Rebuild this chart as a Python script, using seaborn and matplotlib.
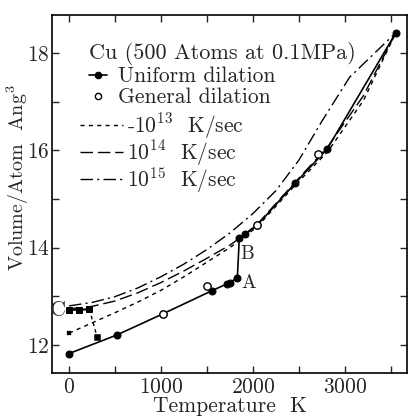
import numpy as np
import pandas as pd
import matplotlib
matplotlib.use("Agg")
import matplotlib.pyplot as plt
import seaborn as sns
from matplotlib.lines import Line2D
from matplotlib.ticker import MultipleLocator

# ---------------- data ----------------
T_uniform = [0, 518, 1025, 1551, 1714, 1750, 1830, 1851, 1913, 2047, 2457, 2808, 3554]
V_uniform = [11.82, 12.20, 12.64, 13.11, 13.25, 13.28, 13.38, 14.19, 14.27, 14.46, 15.32, 16.03, 18.42]

T_general = [1020, 1497, 2040, 2710]
V_general = [12.63, 13.20, 14.46, 15.92]

T_rate13 = [0, 250, 500, 750, 1000, 1250, 1500, 1750, 1880, 2047, 2457, 2808, 3200, 3554]
V_rate13 = [12.24, 12.45, 12.66, 12.88, 13.12, 13.40, 13.70, 14.00, 14.18, 14.43, 15.28, 15.96, 17.02, 18.42]

T_rate14 = [0, 250, 500, 750, 1000, 1250, 1500, 1750, 1860, 2047, 2457, 2808, 3200, 3554]
V_rate14 = [12.74, 12.79, 12.90, 13.07, 13.28, 13.52, 13.78, 14.05, 14.20, 14.48, 15.34, 16.06, 17.12, 18.42]

T_rate15 = [0, 250, 500, 750, 1000, 1250, 1500, 1750, 2000, 2250, 2500, 2750, 3050, 3554]
V_rate15 = [12.80, 12.87, 12.99, 13.17, 13.40, 13.66, 13.96, 14.30, 14.70, 15.17, 15.80, 16.60, 17.50, 18.42]

T_quench = [0, 105, 221]
V_quench = [12.72, 12.72, 12.73]
T_drop = [221, 304]
V_drop = [12.73, 12.17]

x_ticks = [0, 1000, 2000, 3000]
y_ticks = [12, 14, 16, 18]

labels_rate = ["-10$^{13}$  K/sec", "10$^{14}$  K/sec", "10$^{15}$  K/sec"]

# ---------------- style ----------------
sns.set_style("ticks")
plt.rcParams.update({
    "font.family": ["cmr10", "DejaVu Serif"],
    "mathtext.fontset": "cm",
    "axes.unicode_minus": False,
    "axes.formatter.use_mathtext": True,
    "axes.linewidth": 1.2,
})

fig = plt.figure(figsize=(4.1, 4.18), dpi=100)
ax = fig.add_axes([52 / 410, 45 / 418, 355 / 410, 358 / 418])

ls13 = (0, (3, 3))
ls14 = (0, (9, 3.5))
ls15 = (0, (9, 3, 1.5, 3))

sns.lineplot(x=T_rate13, y=V_rate13, ax=ax, color="k", lw=1.0, linestyle=ls13,
             sort=False, estimator=None)
sns.lineplot(x=T_rate14, y=V_rate14, ax=ax, color="k", lw=1.0, linestyle=ls14,
             sort=False, estimator=None)
sns.lineplot(x=T_rate15, y=V_rate15, ax=ax, color="k", lw=1.0, linestyle=ls15,
             sort=False, estimator=None)

sns.lineplot(x=T_uniform, y=V_uniform, ax=ax, color="k", lw=1.2, sort=False,
             estimator=None, marker="o", markersize=5, markeredgecolor="k")
sns.lineplot(x=T_quench, y=V_quench, ax=ax, color="k", lw=1.5, sort=False,
             estimator=None, marker="s", markersize=5, markeredgecolor="k")
sns.lineplot(x=T_drop, y=V_drop, ax=ax, color="k", lw=1.0, linestyle=(0, (2.5, 2.5)),
             sort=False, estimator=None)
sns.scatterplot(x=T_drop[1:], y=V_drop[1:], ax=ax, color="k", marker="s", s=22,
                edgecolor="k")
sns.scatterplot(x=T_rate13[:1], y=V_rate13[:1], ax=ax, color="k", marker="s", s=8,
                edgecolor="k")
sns.scatterplot(x=T_general, y=V_general, ax=ax, facecolor="white", edgecolor="k",
                marker="o", s=28, linewidth=1.0, zorder=5)

# point labels
ax.text(1957, 13.27, "A", fontsize=14, ha="center", va="center")
ax.text(1935, 13.86, "B", fontsize=14, ha="center", va="center")
ax.text(-125, 12.70, "C", fontsize=16, ha="center", va="center")

# ---------------- axes ----------------
ax.set_xlim(-185, 3674)
ax.set_ylim(11.42, 18.78)
ax.set_xticks(x_ticks)
ax.set_yticks(y_ticks)
ax.xaxis.set_minor_locator(MultipleLocator(500))
ax.yaxis.set_minor_locator(MultipleLocator(1))
ax.tick_params(which="both", direction="in", top=True, right=True, length=5,
               width=1.0, labelsize=15.5)
ax.tick_params(axis="x", pad=3)
ax.tick_params(axis="y", pad=1.5)
ax.set_xlabel("Temperature  K", fontsize=15.5, labelpad=0)
ax.set_ylabel("Volume/Atom  Ang$^3$", fontsize=14.5)
ax.yaxis.set_label_coords(-0.058, 0.545)
for s in ax.spines.values():
    s.set_color("k")

# ---------------- legends ----------------
h1 = [Line2D([], [], color="k", lw=1.2, marker="o", markersize=4.5),
      Line2D([], [], color="none", marker="o", markersize=4.5,
             markerfacecolor="white", markeredgecolor="k")]
leg1 = ax.legend(h1, ["Uniform dilation", "General dilation"],
                 title="Cu (500 Atoms at 0.1MPa)", title_fontsize=16,
                 fontsize=15.5, frameon=False, loc="upper left",
                 bbox_to_anchor=(0.075, 0.955), handlelength=0.8,
                 handletextpad=0.55, labelspacing=0.08, borderpad=0,
                 numpoints=1, alignment="left")
ax.add_artist(leg1)

h2 = [Line2D([], [], color="k", lw=1.0, linestyle=ls13),
      Line2D([], [], color="k", lw=1.0, linestyle=ls14),
      Line2D([], [], color="k", lw=1.0, linestyle=ls15)]
ax.legend(h2, labels_rate, fontsize=15.5, frameon=False, loc="upper left",
          bbox_to_anchor=(0.049, 0.762), handlelength=2.0, handletextpad=0.17,
          labelspacing=-0.12, borderpad=0)

fig.savefig("out.png", dpi=100)
